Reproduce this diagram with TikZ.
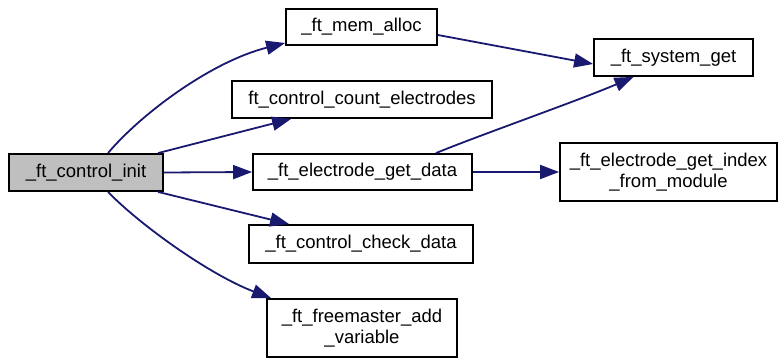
\documentclass[tikz,border=0pt]{standalone}
\usepackage{fontspec}
\setmainfont{Liberation Sans}
\usetikzlibrary{arrows.meta}
\definecolor{edgeblue}{RGB}{25,25,112}
\definecolor{boxgray}{RGB}{191,191,191}
\begin{document}
\begin{tikzpicture}[x=1pt,y=-1pt,
  fn/.style={draw=black,line width=1.8pt,fill=white,inner sep=0pt,align=center,
    font=\fontsize{18.5}{21}\selectfont},
  call/.style={draw=edgeblue,line width=1.8pt,-{Triangle[length=19pt,width=14pt]}}]
\useasboundingbox (0,0) rectangle (779,358);
\node[fn,fill=boxgray,minimum width=154pt,minimum height=37pt] (init) at (86,172.5) {\_ft\_control\_init};
\node[fn,minimum width=151pt,minimum height=36pt] (mem) at (361.5,27) {\_ft\_mem\_alloc};
\node[fn,minimum width=260pt,minimum height=37pt] (count) at (362,99.5) {ft\_control\_count\_electrodes};
\node[fn,minimum width=219pt,minimum height=36pt] (getdata) at (362.5,172) {\_ft\_electrode\_get\_data};
\node[fn,minimum width=224pt,minimum height=38pt] (check) at (361,244) {\_ft\_control\_check\_data};
\node[fn,minimum width=190pt,minimum height=58pt] (free) at (362,328) {\_ft\_freemaster\_add\\\_variable};
\node[fn,minimum width=159pt,minimum height=37pt] (sys) at (673.5,57.5) {\_ft\_system\_get};
\node[fn,minimum width=217pt,minimum height=58pt] (index) at (668.5,172) {\_ft\_electrode\_get\_index\\\_from\_module};
\draw[call] ([xshift=22pt]init.north) .. controls (140,115) and (210,62) .. ([yshift=-16pt]mem.west);
\draw[call] ([xshift=72pt]init.north) -- ([xshift=60pt]count.south west);
\draw[call] (init.east) -- (getdata.west);
\draw[call] ([xshift=72pt]init.south) -- ([xshift=41pt]check.north west);
\draw[call] ([xshift=22pt]init.south) .. controls (140,225) and (210,275) .. ([xshift=5pt]free.north west);
\draw[call] ([yshift=-8pt]mem.east) -- ([yshift=-6.5pt]sys.west);
\draw[call] ([xshift=-37pt]getdata.north east) .. controls (480,135) and (580,100) .. ([xshift=-40pt]sys.south);
\draw[call] (getdata.east) -- (index.west);
\end{tikzpicture}
\end{document}
